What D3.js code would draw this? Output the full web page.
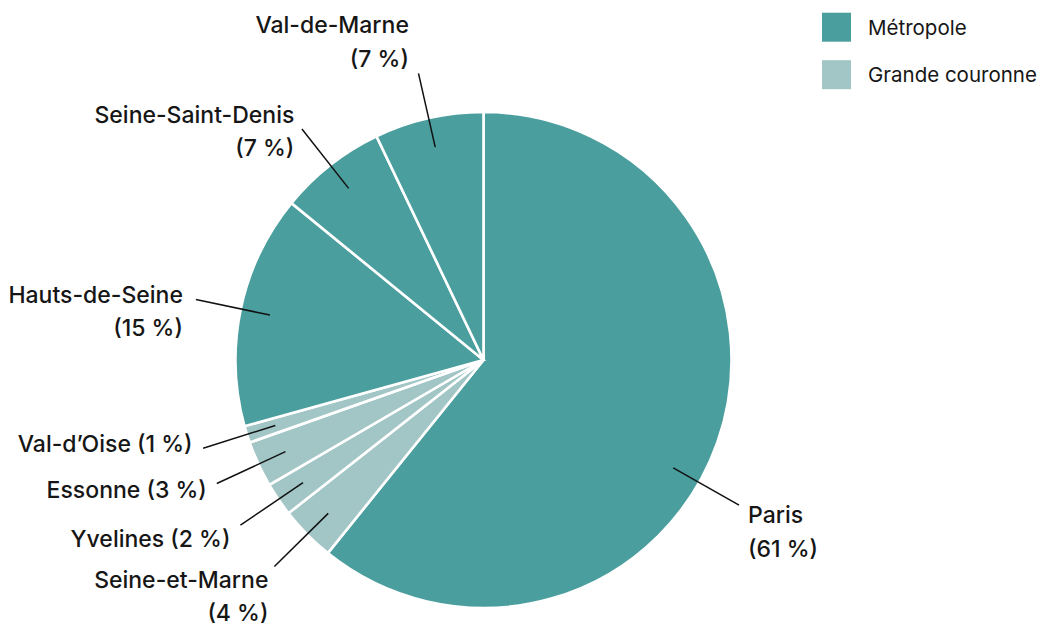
<!DOCTYPE html>
<html>
<head>
<meta charset="utf-8">
<script src="https://cdn.jsdelivr.net/npm/d3@7"></script>
<style>
  html, body { margin: 0; padding: 0; background: #fff; }
  svg { display: block; font-family: Inter, "Noto Sans", sans-serif; }
</style>
</head>
<body>
<svg id="chart" width="1043" height="626"></svg>
<script>
// ---- data ----
const departements = ["Paris", "Seine-et-Marne", "Yvelines", "Essonne", "Val-d’Oise", "Hauts-de-Seine", "Seine-Saint-Denis", "Val-de-Marne"];
const shares = [60.8, 3.6, 2.2, 3.0, 1.1, 15.2, 7.0, 7.1];
const pctLabels = ["61 %", "4 %", "2 %", "3 %", "1 %", "15 %", "7 %", "7 %"];
const groups = ["Métropole", "Grande couronne", "Grande couronne", "Grande couronne", "Grande couronne", "Métropole", "Métropole", "Métropole"];
const legendGroups = ["Métropole", "Grande couronne"];

// ---- layout (not data) ----
const W = 1043, H = 626;
const cx = 483.5, cy = 360, r = 248;
const colors = { "Métropole": "#4b9e9e", "Grande couronne": "#a2c5c6" };
const labelLayout = [
  { lines: 2, anchor: "start", dx: 9, dy: 18.3, angle: 119.6 },
  { lines: 2, anchor: "end", dx: -6, dy: 21.5 },
  { lines: 1, anchor: "end", dx: -10, dy: 21.4 },
  { lines: 1, anchor: "end", dx: -10, dy: 14.3 },
  { lines: 1, anchor: "end", dx: -10.6, dy: 3.5 },
  { lines: 2, anchor: "end", dx: -13, dy: 3 },
  { lines: 2, anchor: "end", dx: -7.6, dy: -6.3 },
  { lines: 2, anchor: "end", dx: -9.6, dy: -40 }
];

const svg = d3.select("#chart");
const data = departements.map((d, i) => ({ name: d, value: shares[i], pct: pctLabels[i], group: groups[i], layout: labelLayout[i] }));

const pie = d3.pie().value(d => d.value).sort(null).startAngle(0).endAngle(2 * Math.PI);
const arcs = pie(data);
const arc = d3.arc().innerRadius(0).outerRadius(r);

const g = svg.append("g").attr("transform", `translate(${cx},${cy})`);
g.selectAll("path.slice").data(arcs).join("path")
  .attr("class", "slice")
  .attr("d", arc)
  .attr("fill", d => colors[d.data.group])
  .attr("stroke", "#fff")
  .attr("stroke-width", 2.6)
  .attr("stroke-linejoin", "miter");

const r1 = r * 0.88, r2 = r * 1.185;
function pt(angleDeg, rad) {
  const a = angleDeg * Math.PI / 180;
  return [rad * Math.sin(a), -rad * Math.cos(a)];
}

arcs.forEach(a => {
  const L = a.data.layout;
  const ang = L.angle != null ? L.angle : ((a.startAngle + a.endAngle) / 2) * 180 / Math.PI;
  const p1 = pt(ang, r1), p2 = pt(ang, r2);
  g.append("line")
    .attr("x1", p1[0]).attr("y1", p1[1])
    .attr("x2", p2[0]).attr("y2", p2[1])
    .attr("stroke", "#111").attr("stroke-width", 1.5);
  const t = g.append("text")
    .attr("x", p2[0] + L.dx).attr("y", p2[1] + L.dy)
    .attr("text-anchor", L.anchor)
    .attr("font-size", 23)
    .attr("font-weight", 500)
    .attr("fill", "#161616");
  if (L.lines === 2) {
    t.append("tspan").attr("x", p2[0] + L.dx).text(a.data.name);
    t.append("tspan").attr("x", p2[0] + L.dx).attr("dy", 33.3).text(`(${a.data.pct})`);
  } else {
    t.text(`${a.data.name} (${a.data.pct})`);
  }
});

// legend
const leg = svg.append("g").attr("transform", "translate(822,12.7)");
const li = leg.selectAll("g").data(legendGroups).join("g")
  .attr("transform", (d, i) => `translate(0,${i * 47.5})`);
li.append("rect").attr("width", 29).attr("height", 29).attr("fill", d => colors[d]);
li.append("text").attr("x", 46).attr("y", 22.3)
  .attr("font-size", 20.5).attr("fill", "#161616").text(d => d);
</script>
</body>
</html>
